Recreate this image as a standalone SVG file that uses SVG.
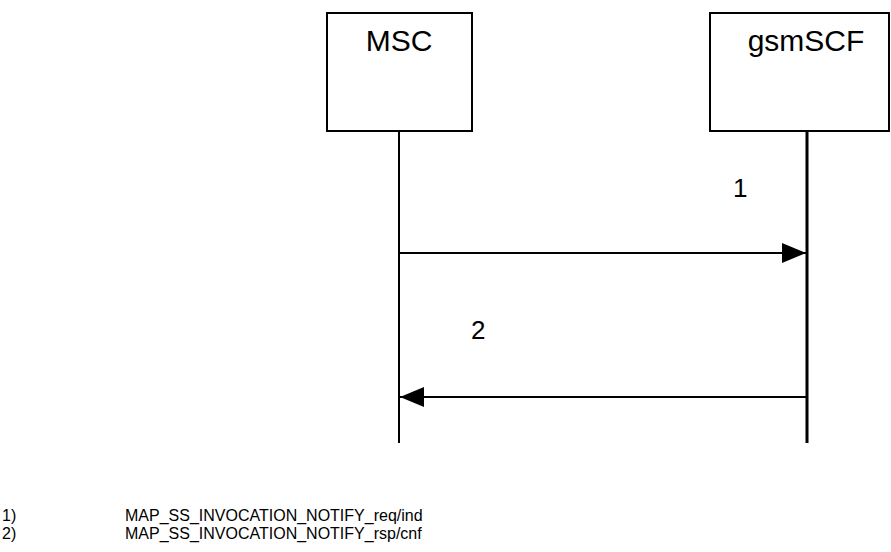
<svg xmlns="http://www.w3.org/2000/svg" width="891" height="552" viewBox="0 0 891 552">
<style>
.box{fill:#fff;stroke:#000;stroke-width:2}
.t{font-family:"Liberation Sans",Arial,sans-serif;fill:#000}
.big{font-size:30px;text-anchor:middle}
.lbl{font-size:26px}
.note{font-size:16px}
.ln{stroke:#000;fill:none}
</style>
<defs>
<marker id="ah" markerWidth="24" markerHeight="20" refX="24" refY="10" orient="auto" markerUnits="userSpaceOnUse">
<path d="M0,0 L24,10 L0,20 Z" fill="#000"/>
</marker>
</defs>
<g id="msc">
<rect class="box" x="327" y="13" width="145" height="118"/>
<text class="t big" x="399" y="51">MSC</text>
</g>
<g id="gsmscf">
<rect class="box" x="710" y="13" width="179" height="118"/>
<text class="t big" x="806" y="51">gsmSCF</text>
</g>
<g id="connectors">
<line class="ln" x1="399" y1="131" x2="399" y2="443" stroke-width="2"/>
<line class="ln" x1="807" y1="131" x2="807" y2="443" stroke-width="3"/>
<line class="ln" x1="399" y1="253" x2="806" y2="253" stroke-width="2" marker-end="url(#ah)"/>
<line class="ln" x1="806" y1="397" x2="400" y2="397" stroke-width="2" marker-end="url(#ah)"/>
</g>
<text class="t lbl" x="733" y="197">1</text>
<text class="t lbl" x="471" y="339">2</text>
<text class="t note" x="2" y="521">1)</text>
<text class="t note" x="125" y="521">MAP_SS_INVOCATION_NOTIFY_req/ind</text>
<text class="t note" x="2" y="539">2)</text>
<text class="t note" x="125" y="539">MAP_SS_INVOCATION_NOTIFY_rsp/cnf</text>
</svg>
